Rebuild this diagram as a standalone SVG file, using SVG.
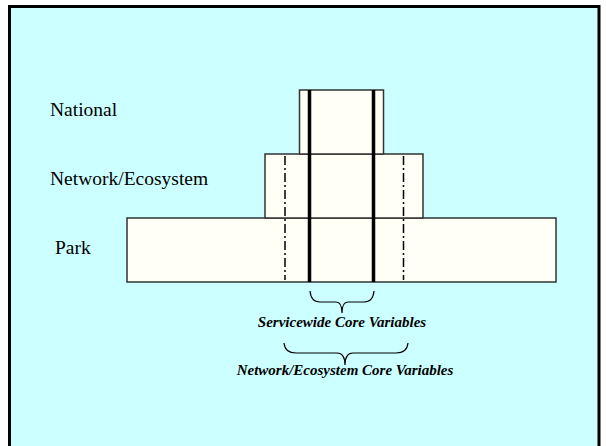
<svg xmlns="http://www.w3.org/2000/svg" width="606" height="446" viewBox="0 0 606 446">
  <style>
    text { font-family: 'Liberation Serif', 'Times New Roman', serif; fill: #000; }
    .label { font-size: 19.5px; }
    .note { font-size: 15px; font-weight: bold; font-style: italic; text-anchor: middle; }
    .tier { fill: #FFFFF5; stroke: #333; stroke-width: 1.5; }
    .core { stroke: #000; stroke-width: 3.5; fill: none; }
    .net { stroke: #000; stroke-width: 1.5; stroke-dasharray: 9 3 2 3; fill: none; }
    .brace { stroke: #000; stroke-width: 1.2; fill: none; }
  </style>
  <!-- slide frame -->
  <rect x="9.5" y="6.5" width="589.5" height="445" fill="#CCFFFF" stroke="#000" stroke-width="3"/>

  <!-- tier labels -->
  <text class="label" x="50" y="116">National</text>
  <text class="label" x="50" y="185">Network/Ecosystem</text>
  <text class="label" x="55" y="254">Park</text>

  <!-- tier blocks -->
  <g id="park"><rect class="tier" x="127" y="218" width="429" height="64"/></g>
  <g id="network"><rect class="tier" x="265" y="154" width="158" height="64"/></g>
  <g id="national"><rect class="tier" x="299.5" y="90" width="84" height="64"/></g>

  <g id="connectors">
    <!-- servicewide core lines -->
    <line class="core" x1="309.5" y1="90" x2="309.5" y2="282"/>
    <line class="core" x1="373.5" y1="90" x2="373.5" y2="282"/>
    <!-- network/ecosystem core lines -->
    <line class="net" x1="285" y1="156" x2="285" y2="280"/>
    <line class="net" x1="403.5" y1="156" x2="403.5" y2="280"/>
    <!-- braces -->
    <path class="brace" d="M310,291 Q311,302 320,302 L336,302 Q342,302 342,313 Q342,302 348,302 L364,302 Q373,302 374,291"/>
    <path class="brace" d="M284,343 Q285,353 296,353 L337,353 Q345,353 345,365 Q345,353 353,353 L396,353 Q407,353 408,343"/>
  </g>

  <text class="note" x="342" y="327">Servicewide Core Variables</text>
  <text class="note" x="345" y="375">Network/Ecosystem Core Variables</text>
</svg>
